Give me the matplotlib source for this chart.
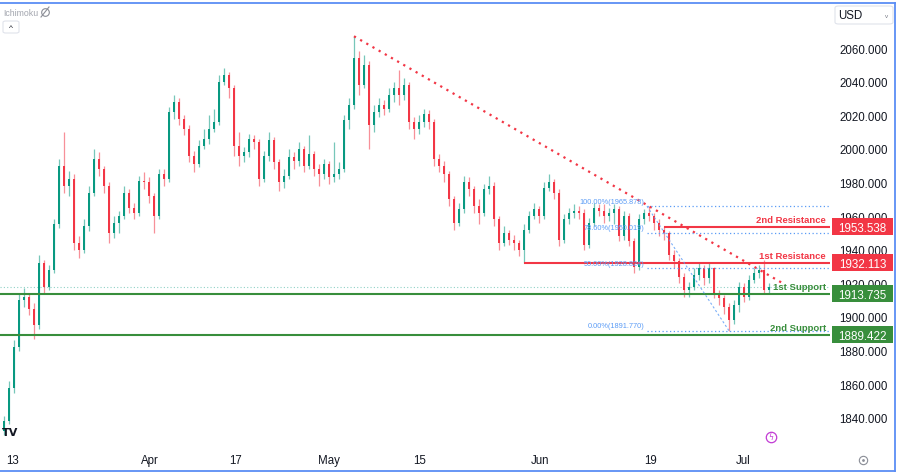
import matplotlib
matplotlib.use("Agg")
import matplotlib.pyplot as plt
import numpy as np
from matplotlib.lines import Line2D
from matplotlib.patches import Rectangle, FancyBboxPatch
from matplotlib.transforms import blended_transform_factory

plt.rcParams["font.family"] = ["Liberation Sans", "DejaVu Sans"]

# ---- data (XAU/USD, ~2 bars per trading day) ----
first_open = 1832.0
closes = [
    1838, 1858, 1882, 1910, 1912, 1905, 1895, 1932, 1918, 1928,
    1955, 1990, 1978, 1982, 1944, 1940, 1954, 1974, 1994, 1988,
    1978, 1950, 1956, 1960, 1974, 1965, 1962, 1981, 1980, 1972,
    1960, 1985, 1982, 2022, 2028, 2018, 2012, 1996, 1991, 2002,
    2006, 2012, 2016, 2040, 2044, 2036, 2002, 1996, 1998, 2006,
    2004, 1982, 1996, 2005, 1992, 1980, 1984, 1995, 1993, 2000,
    1990, 1997, 1988, 1985, 1991, 1983, 1985, 1988, 2017, 2026,
    2054, 2038, 2050, 2014, 2022, 2026, 2024, 2032, 2036, 2032,
    2038, 2016, 2012, 2016, 2021, 2016, 1994, 1990, 1985, 1970,
    1956, 1964, 1980, 1976, 1966, 1962, 1976, 1978, 1958, 1944,
    1950, 1946, 1944, 1940, 1952, 1960, 1964, 1960, 1977, 1980,
    1974, 1946, 1958, 1962, 1963, 1962, 1943, 1956, 1965, 1963,
    1960, 1962, 1964, 1948, 1960, 1945, 1930, 1958, 1962, 1960,
    1956, 1952, 1950, 1937, 1933, 1924, 1916, 1918, 1925, 1929,
    1923, 1929, 1914, 1911, 1906, 1898, 1907, 1918, 1912, 1922,
    1926, 1928, 1916, 1918,
]
highs = [
    1841, 1862, 1886, 1914, 1917, 1914, 1908, 1937, 1934, 1931,
    1958, 1994, 2010, 1987, 1985, 1948, 1958, 1978, 2000, 1998,
    1990, 1980, 1960, 1963, 1978, 1976, 1968, 1984, 1986, 1983,
    1974, 1988, 1988, 2025, 2032, 2030, 2020, 2014, 1999, 2005,
    2012, 2020, 2024, 2044, 2048, 2046, 2038, 2010, 2001, 2009,
    2008, 2006, 1999, 2010, 2007, 1994, 1988, 2000, 1998, 2004,
    2002, 2008, 1999, 1991, 1994, 1993, 2004, 1992, 2020, 2030,
    2067, 2058, 2056, 2052, 2026, 2030, 2029, 2036, 2040, 2047,
    2042, 2040, 2019, 2020, 2024, 2023, 2018, 1997, 1993, 1987,
    1972, 1968, 1984, 1983, 1978, 1970, 1979, 1984, 1980, 1960,
    1954, 1952, 1949, 1946, 1955, 1963, 1968, 1966, 1980, 1985,
    1982, 1976, 1961, 1965, 1967, 1966, 1964, 1959, 1968, 1967,
    1967, 1965, 1967, 1966, 1963, 1962, 1947, 1961, 1964, 1965.878,
    1962, 1958, 1954, 1951, 1940, 1935, 1926, 1921, 1929, 1932,
    1931, 1932, 1930, 1916, 1913, 1908, 1910, 1921, 1920, 1925,
    1929, 1931, 1934, 1920,
]
lows = [
    1830, 1836, 1855, 1880, 1906, 1901, 1887, 1893, 1914, 1916,
    1926, 1953, 1974, 1972, 1940, 1935, 1938, 1951, 1972, 1984,
    1974, 1944, 1947, 1950, 1958, 1962, 1958, 1960, 1976, 1968,
    1950, 1958, 1978, 1980, 2018, 2014, 2008, 1992, 1986, 1989,
    2000, 2003, 2010, 2014, 2038, 2030, 1996, 1990, 1992, 1995,
    2000, 1978, 1980, 1993, 1988, 1975, 1977, 1982, 1988, 1990,
    1986, 1988, 1984, 1978, 1982, 1979, 1980, 1982, 1986, 2012,
    2024, 2032, 2036, 2000, 2010, 2019, 2020, 2022, 2028, 2026,
    2029, 2012, 2006, 2009, 2013, 2012, 1990, 1986, 1980, 1966,
    1952, 1954, 1962, 1972, 1962, 1955, 1960, 1973, 1954, 1940,
    1942, 1943, 1940, 1936, 1932.1, 1950, 1958, 1956, 1958, 1975,
    1970, 1942, 1944, 1955, 1959, 1958, 1940, 1941, 1954, 1960,
    1956, 1957, 1955, 1945, 1946, 1942, 1926, 1928, 1955, 1957,
    1952, 1948, 1946, 1934, 1929, 1920, 1912, 1912, 1916, 1922,
    1919, 1920, 1911, 1907, 1902, 1891.77, 1896, 1903, 1909, 1910,
    1920, 1923, 1914, 1914,
]

date_labels = ["13", "Apr", "17", "May", "15", "Jun", "19", "Jul"]
price_ticks = [1840, 1860, 1880, 1900, 1920, 1940, 1960, 1980, 2000, 2020, 2040, 2060]

level_names = ["2nd Resistance", "1st Resistance", "1st Support", "2nd Support"]
level_values = [1953.538, 1932.113, 1913.735, 1889.422]
fib_ratios = [1.0, 0.786, 0.5, 0.0]

# ---- layout / style ----
UP = "#089981"
DOWN = "#f23645"
RED = "#f23645"
GREEN = "#388e3c"
FIB = "#5b9cf6"
TXT = "#131722"
FRAME = "#5b8df5"
W, H = 900, 477

tick_pos = [1.8, 29.2, 46.4, 65.0, 83.2, 107.2, 129.4, 147.8]
level_start = [132, 104, -1, -1]
level_colors = [RED, RED, GREEN, GREEN]
XMIN, XMAX = -0.8, 165.2


def main():
    closes_a = np.array(closes, dtype=float)
    opens = np.concatenate([[first_open], closes_a[:-1]])
    hi = np.array(highs, dtype=float)
    lo = np.array(lows, dtype=float)
    x = np.arange(len(closes_a))
    up = closes_a >= opens
    colors = np.where(up, UP, DOWN)

    fig = plt.figure(figsize=(W / 100, H / 100), dpi=100)
    fig.patch.set_facecolor("white")
    ax = fig.add_axes([0, 29 / H, 830 / W, 443 / H])
    ax.set_xlim(XMIN, XMAX)
    ax.set_ylim(1822.6, 2086.2)
    for s in ax.spines.values():
        s.set_visible(False)

    # candles
    ax.vlines(x, lo, hi, colors=colors, linewidth=0.9, alpha=0.55, zorder=3)
    body = np.maximum(np.abs(closes_a - opens), 0.5)
    ax.bar(x, body, bottom=np.minimum(opens, closes_a), width=0.5,
           color=colors, linewidth=0, zorder=4)

    # last price dotted line
    ax.axhline(closes_a[-1], color=UP, alpha=0.45, lw=0.8,
               linestyle=(0, (1, 2)), zorder=2)

    # support / resistance levels
    for name, val, start, col in zip(level_names, level_values, level_start, level_colors):
        x0 = XMIN if start < 0 else start
        ax.plot([x0, XMAX], [val, val], color=col, lw=1.5, zorder=5,
                solid_capstyle="butt")
        ax.text(164.4, val + 1.6, name, color=col, fontsize=6.8,
                fontweight="bold", ha="right", va="bottom", zorder=6)

    # falling trendline from the May high through the June high
    i_peak = int(np.argmax(hi))
    i_fhi = 129
    i_flo = 145
    slope = (hi[i_fhi] - hi[i_peak]) / (i_fhi - i_peak)
    tx = np.array([i_peak, 156.0])
    ax.plot(tx, hi[i_peak] + slope * (tx - i_peak), color=RED, lw=1.6,
            linestyle=(0, (1, 2.2)), zorder=5)

    # fibonacci retracement
    f_hi, f_lo = hi[i_fhi], lo[i_flo]
    for r in fib_ratios:
        v = f_lo + r * (f_hi - f_lo)
        ax.plot([i_fhi - 0.4, XMAX], [v, v], color=FIB, lw=0.9,
                linestyle=(0, (1, 2)), zorder=5)
        ax.text(128.0, v + 1.0, f"{r * 100:.2f}%({v:.3f})", color=FIB,
                fontsize=5.3, ha="right", va="bottom", zorder=6)
    ax.plot([i_fhi - 0.4, i_flo], [f_hi, f_lo], color=FIB, lw=0.8,
            linestyle=(0, (2, 2)), alpha=0.8, zorder=5)

    # axes ticks
    ax.yaxis.tick_right()
    ax.set_yticks(price_ticks, [f"{v:.3f}" for v in price_ticks])
    ax.set_xticks(tick_pos, date_labels)
    ax.tick_params(axis="y", length=0, pad=6.5, labelsize=8.3, labelcolor=TXT)
    ax.tick_params(axis="x", length=0, pad=5.2, labelsize=8.3, labelcolor=TXT)

    # price boxes on the scale
    bt = blended_transform_factory(ax.transAxes, ax.transData)
    bh = 17 / 443 * (2086.2 - 1822.6)
    for val, col in zip(level_values, level_colors):
        ax.add_patch(Rectangle((832 / 830, val - bh / 2), 61 / 830, bh,
                               transform=bt, facecolor=col, edgecolor="none",
                               clip_on=False, zorder=10))
        ax.text(862.5 / 830, val, f"{val:.3f}", transform=bt, color="white",
                fontsize=8.4, ha="center", va="center_baseline",
                clip_on=False, zorder=11)

    def fx(px):
        return px / W

    def fy(py):
        return 1 - py / H

    # blue selection frame
    fig.add_artist(Line2D([0, fx(895)], [fy(3.5), fy(3.5)], color=FRAME, lw=1.3))
    fig.add_artist(Line2D([fx(895), fx(895)], [fy(3.5), fy(472)], color=FRAME, lw=1.3))
    fig.add_artist(Line2D([0, fx(895)], [fy(472), fy(472)], color=FRAME, lw=1.3))

    # top-left indicator legend
    fig.text(fx(3), fy(13), "Ichimoku", color="#a3a6af", fontsize=6.3, va="center")
    fig.add_artist(Line2D([fx(45)], [fy(13)], marker="o", markersize=5.5,
                          mfc="none", mec="#8a8d96", mew=0.8, transform=fig.transFigure))
    fig.add_artist(Line2D([fx(41), fx(49)], [fy(18), fy(8)], color="#8a8d96", lw=0.8))
    fig.add_artist(FancyBboxPatch((fx(3), fy(34)), fx(16), 12 / H,
                                  boxstyle="round,pad=0,rounding_size=0.003",
                                  transform=fig.transFigure, facecolor="white",
                                  edgecolor="#e0e3eb", lw=0.8))
    fig.text(fx(11), fy(29), "^", color="#131722", fontsize=6, ha="center", va="center")

    # currency box
    fig.add_artist(FancyBboxPatch((fx(835), fy(25)), fx(58), 18 / H,
                                  boxstyle="round,pad=0,rounding_size=0.004",
                                  transform=fig.transFigure, facecolor="white",
                                  edgecolor="#e0e3eb", lw=0.8))
    fig.text(fx(838), fy(16), "USD", color=TXT, fontsize=8.3, va="center")
    fig.text(fx(887), fy(16), "v", color="#787b86", fontsize=4.5, ha="center", va="center")

    # logo, event icon, settings icon
    fig.text(fx(2), fy(433), "TV", color="#131722", fontsize=8, fontweight="heavy",
             family="DejaVu Sans", va="center")
    fig.add_artist(Line2D([fx(771)], [fy(438)], marker="o", markersize=7.5,
                          mfc="none", mec="#c23bd4", mew=0.9, transform=fig.transFigure))
    fig.text(fx(771), fy(438), "ϟ", color="#c23bd4", fontsize=5.5, ha="center",
             va="center", family="DejaVu Sans")
    fig.add_artist(Line2D([fx(863)], [fy(461)], marker="o", markersize=6,
                          mfc="none", mec="#8a8d96", mew=0.8, transform=fig.transFigure))
    fig.add_artist(Line2D([fx(863)], [fy(461)], marker="o", markersize=2,
                          mfc="#8a8d96", mec="none", transform=fig.transFigure))

    fig.savefig("out.png", dpi=100, facecolor="white")
    plt.close(fig)


if __name__ == "__main__":
    main()
